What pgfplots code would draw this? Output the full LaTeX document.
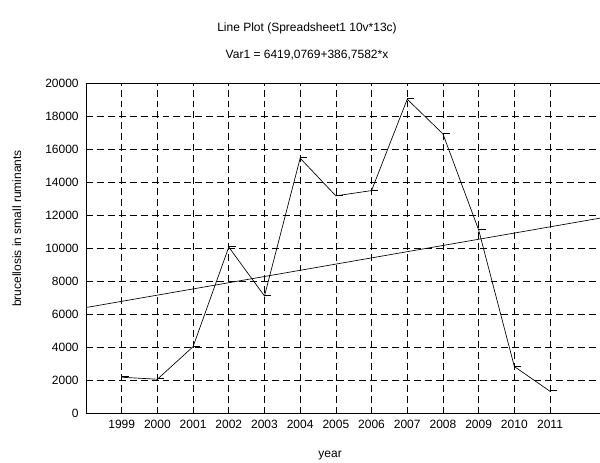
\documentclass[border=0pt]{standalone}
\usepackage{pgfplots}
\pgfplotsset{compat=1.18}
\usepackage{fontspec}
\setmainfont{Liberation Sans}
\usetikzlibrary{calc}

\pgfdeclareplotmark{rdash}{%
  \pgfpathmoveto{\pgfpoint{0pt}{0.4pt}}%
  \pgfpathlineto{\pgfpoint{5.2pt}{0.4pt}}%
  \pgfusepathqstroke}

\begin{document}
\begin{tikzpicture}[font=\fontsize{9}{11}\selectfont]
\begin{axis}[
    scale only axis,
    width=385.5pt, height=247.8pt,
    xmin=0, xmax=14.4,
    ymin=0, ymax=20000,
    xtick={1,...,13},
    xticklabels={1999,2000,2001,2002,2003,2004,2005,2006,2007,2008,2009,2010,2011},
    ytick={0,2000,...,20000},
    scaled y ticks=false,
    yticklabel style={/pgf/number format/fixed, /pgf/number format/1000 sep={}, xshift=-2pt},
    xticklabel style={yshift=-1pt},
    /pgf/number format/assume math mode=true,
    axis y line*=left,
    axis x line*=box,
    axis line style={black, line width=0.7pt},
    major tick length=0pt,
    grid=major,
    grid style={black, line width=0.5pt, dash pattern=on 5.2pt off 3pt},
    clip=false,
  ]
  \addplot[black, line width=0.5pt, mark=rdash, mark options={solid, line width=0.5pt}] coordinates {
    (1, 2200) (2, 2080) (3, 4050) (4, 10080) (5, 7120) (6, 15460) (7, 13180)
    (8, 13500) (9, 19030) (10, 16930) (11, 11120) (12, 2850) (13, 1350)
  };
  \addplot[black, line width=0.5pt] coordinates {(0, 6419) (14.4, 11830)};
  \coordinate (sw) at (rel axis cs:0,0);
  \coordinate (ne) at (rel axis cs:1,1);
  \coordinate (tl) at (rel axis cs:0.43,1);
  \coordinate (bl) at (rel axis cs:0.475,0);
  \coordinate (ml) at (rel axis cs:0,0.56);
\end{axis}
\node at ($(bl)+(0,-31.2pt)$) {year};
\node at ($(tl)+(0,41.2pt)$) {Line Plot (Spreadsheet1 10v*13c)};
\node at ($(tl)+(0,20.8pt)$) {Var1 = 6419,0769+386,7582*x};
\node[rotate=90] at ($(ml)+(-51.8pt,0)$) {brucellosis in small ruminants};
\pgfresetboundingbox
\path ($(sw)+(-64.5pt,-36.4pt)$) rectangle ($(ne)+(0,62.4pt)$);
\end{tikzpicture}
\end{document}
